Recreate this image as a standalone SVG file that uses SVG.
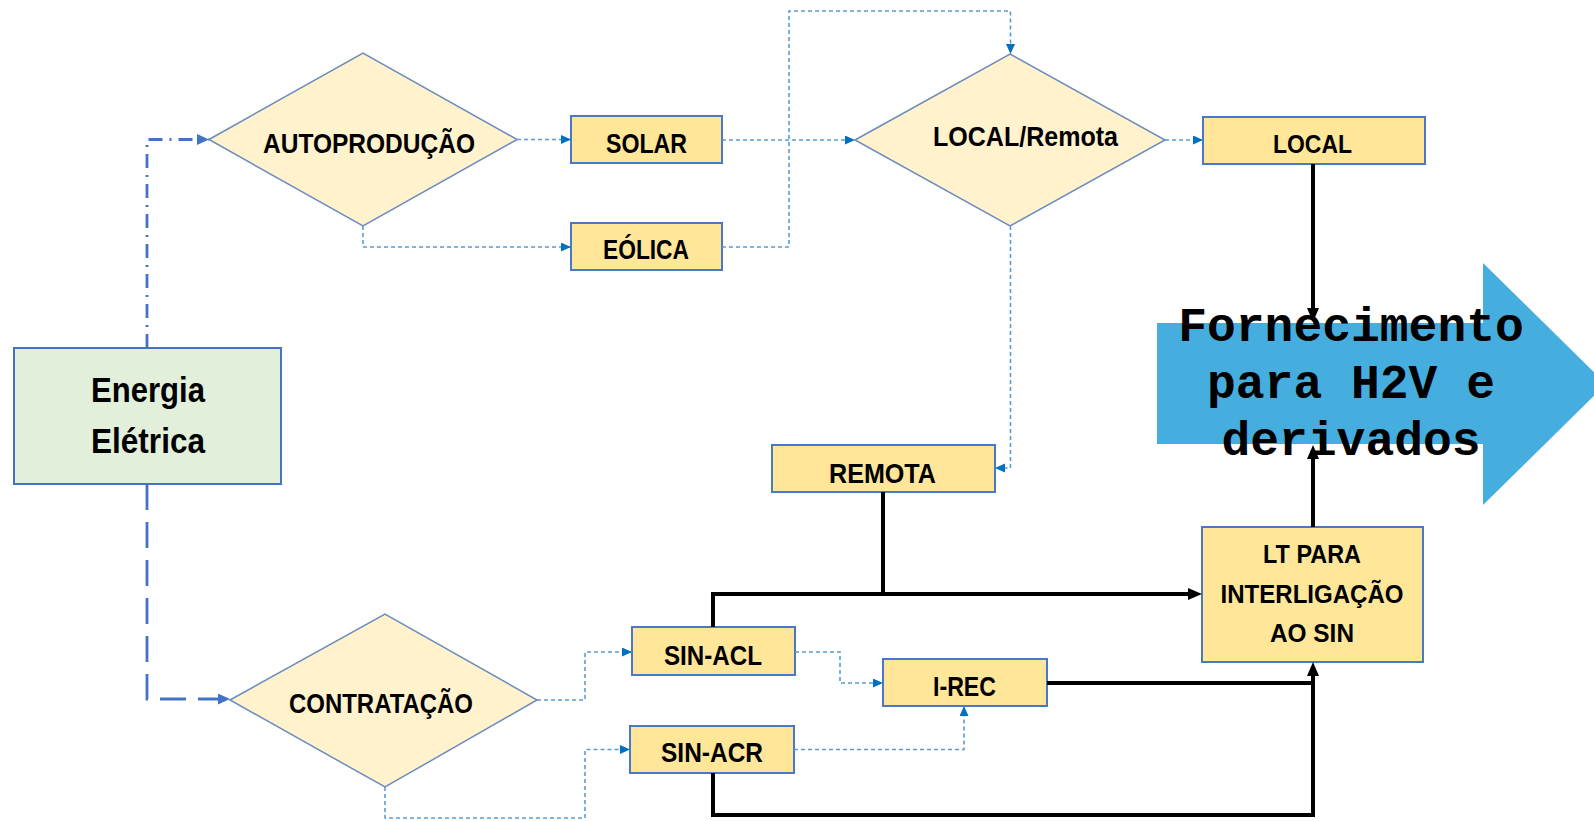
<svg xmlns="http://www.w3.org/2000/svg" width="1594" height="821" viewBox="0 0 1594 821">
  <defs>
    <style>
      .dia { fill:#FFF2CC; stroke:#6D8BBE; stroke-width:1.5; }
      .box { fill:#FFE699; stroke:#4A78C8; stroke-width:2; }
      .src { fill:#E2EFDA; stroke:#4472C4; stroke-width:2; }
      .lbl { font-family:"Liberation Sans", Arial, sans-serif; font-weight:bold; fill:#000; text-anchor:middle; }
      .big { font-family:"Liberation Mono", "Courier New", monospace; font-weight:bold; font-size:48px; fill:#000; text-anchor:middle; }
      .dot { fill:none; stroke:#5B9BD5; stroke-width:1.6; stroke-dasharray:4 3; }
      .solid { fill:none; stroke:#000; stroke-width:4; }
      .dashdot { fill:none; stroke:#4472C4; stroke-width:2.8; stroke-dasharray:14 7 2 7; }
      .dash { fill:none; stroke:#4472C4; stroke-width:2.8; stroke-dasharray:26 12; }
    </style>
    <marker id="aDot" markerUnits="userSpaceOnUse" markerWidth="11" markerHeight="10" refX="10" refY="4.5" orient="auto">
      <path d="M0,0 L10,4.5 L0,9 z" fill="#0070C0"/>
    </marker>
    <marker id="aBlue" markerUnits="userSpaceOnUse" markerWidth="13" markerHeight="12" refX="12" refY="5.5" orient="auto">
      <path d="M0,0 L12,5.5 L0,11 z" fill="#4472C4"/>
    </marker>
    <marker id="aBlack" markerUnits="userSpaceOnUse" markerWidth="15" markerHeight="13" refX="8" refY="6" orient="auto">
      <path d="M0,0 L14,6 L0,12 z" fill="#000"/>
    </marker>
  </defs>

  <rect width="1594" height="821" fill="#fff"/>

  <!-- nodes -->
  <g id="energia">
    <rect class="src" x="14" y="348" width="267" height="136"/>
    <text class="lbl" x="148" y="402" font-size="35" textLength="114" lengthAdjust="spacingAndGlyphs">Energia</text>
    <text class="lbl" x="148" y="453" font-size="35" textLength="114" lengthAdjust="spacingAndGlyphs">Elétrica</text>
  </g>
  <g id="autoproducao">
    <polygon class="dia" points="209,139.5 363,53 517,139.5 363,226"/>
    <text class="lbl" x="369" y="153" font-size="28" textLength="212" lengthAdjust="spacingAndGlyphs">AUTOPRODUÇÃO</text>
  </g>
  <g id="solar">
    <rect class="box" x="571" y="116" width="151" height="47"/>
    <text class="lbl" x="646.5" y="153" font-size="28" textLength="81" lengthAdjust="spacingAndGlyphs">SOLAR</text>
  </g>
  <g id="eolica">
    <rect class="box" x="571" y="223" width="151" height="47"/>
    <text class="lbl" x="646" y="259" font-size="28" textLength="86" lengthAdjust="spacingAndGlyphs">EÓLICA</text>
  </g>
  <g id="local-remota">
    <polygon class="dia" points="855,140 1010,54 1165,140 1010,226"/>
    <text class="lbl" x="1025.5" y="146" font-size="28" textLength="185" lengthAdjust="spacingAndGlyphs">LOCAL/Remota</text>
  </g>
  <g id="local">
    <rect class="box" x="1203" y="117" width="222" height="47"/>
    <text class="lbl" x="1312.5" y="153" font-size="25" textLength="79" lengthAdjust="spacingAndGlyphs">LOCAL</text>
  </g>
  <g id="remota">
    <rect class="box" x="772" y="445" width="223" height="47"/>
    <text class="lbl" x="882.5" y="483" font-size="28" textLength="107" lengthAdjust="spacingAndGlyphs">REMOTA</text>
  </g>
  <g id="contratacao">
    <polygon class="dia" points="230,700 385,614 537,700 385,787"/>
    <text class="lbl" x="381" y="713" font-size="27" textLength="184" lengthAdjust="spacingAndGlyphs">CONTRATAÇÃO</text>
  </g>
  <g id="sin-acl">
    <rect class="box" x="632" y="627" width="163" height="48"/>
    <text class="lbl" x="713" y="665" font-size="28" textLength="98" lengthAdjust="spacingAndGlyphs">SIN-ACL</text>
  </g>
  <g id="i-rec">
    <rect class="box" x="883" y="659" width="164" height="47"/>
    <text class="lbl" x="964.5" y="696" font-size="28" textLength="63" lengthAdjust="spacingAndGlyphs">I-REC</text>
  </g>
  <g id="sin-acr">
    <rect class="box" x="630" y="726" width="164" height="47"/>
    <text class="lbl" x="712" y="762" font-size="28" textLength="102" lengthAdjust="spacingAndGlyphs">SIN-ACR</text>
  </g>
  <g id="lt-sin">
    <rect class="box" x="1202" y="527" width="221" height="135"/>
    <text class="lbl" x="1312" y="563" font-size="25" textLength="98" lengthAdjust="spacingAndGlyphs">LT PARA</text>
    <text class="lbl" x="1312" y="603" font-size="25" textLength="183" lengthAdjust="spacingAndGlyphs">INTERLIGAÇÃO</text>
    <text class="lbl" x="1312" y="642" font-size="25" textLength="84" lengthAdjust="spacingAndGlyphs">AO SIN</text>
  </g>

  <!-- connectors -->
  <g id="connectors">
    <!-- from the source box -->
    <path class="dashdot" d="M147,348 V139.5 H209" marker-end="url(#aBlue)"/>
    <path class="dash" d="M147,484 V699 H230" marker-end="url(#aBlue)"/>

    <!-- self-production branch -->
    <path class="dot" d="M517,139.5 H571" marker-end="url(#aDot)"/>
    <path class="dot" d="M363,226 V247 H571" marker-end="url(#aDot)"/>
    <path class="dot" d="M722,140 H855" marker-end="url(#aDot)"/>
    <path class="dot" d="M722,247 H789 V11 H1010.5 V54" marker-end="url(#aDot)"/>
    <path class="dot" d="M1165,140 H1203" marker-end="url(#aDot)"/>
    <path class="dot" d="M1010.5,226 V468 H995" marker-end="url(#aDot)"/>

    <!-- contracting branch -->
    <path class="dot" d="M537,700 H585 V652 H632" marker-end="url(#aDot)"/>
    <path class="dot" d="M385,787 V818 H585 V749.5 H630" marker-end="url(#aDot)"/>
    <path class="dot" d="M795,652 H840 V683 H883" marker-end="url(#aDot)"/>
    <path class="dot" d="M794,749.5 H964 V706" marker-end="url(#aDot)"/>

    <!-- supply lines -->
    <path class="solid" d="M1313,164 V316" marker-end="url(#aBlack)"/>
    <path class="solid" d="M883,492 V594"/>
    <path class="solid" d="M713,627 V594 H1196" marker-end="url(#aBlack)"/>
    <path class="solid" d="M1047,683 H1313"/>
    <path class="solid" d="M713,773 V815 H1313 V668" marker-end="url(#aBlack)"/>
    <path class="solid" d="M1313,527 V451" marker-end="url(#aBlack)"/>
  </g>

  <!-- output arrow -->
  <g id="fornecimento">
    <polygon points="1157,323 1483,323 1483,263 1606,384 1483,505 1483,444 1157,444" fill="#46AEDF"/>
    <text class="big" x="1351" y="341">Fornecimento</text>
    <text class="big" x="1351" y="398">para H2V e</text>
    <text class="big" x="1351" y="455">derivados</text>
  </g>
</svg>
